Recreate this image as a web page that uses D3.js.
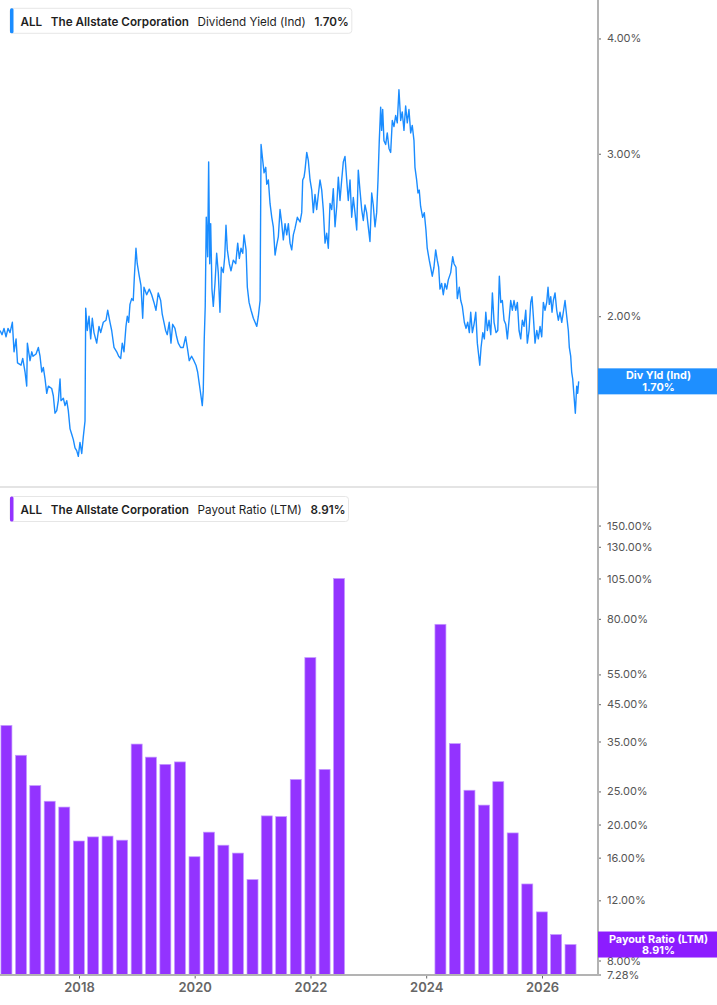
<!DOCTYPE html>
<html>
<head>
<meta charset="utf-8">
<script src="https://cdn.jsdelivr.net/npm/d3@7"></script>
<style>
  body { margin: 0; background: #fff; }
  svg { display: block; font-family: Inter, "Noto Sans", sans-serif; }
</style>
</head>
<body>
<div id="chart"></div>
<script>
// ALL - dividend yield (line, top) and payout ratio (bars, bottom)

// ---- data ----
// dividend yield (%), time as decimal year
var yieldYears = [
  2016.635, 2016.670, 2016.704, 2016.739, 2016.773, 2016.808, 2016.848, 2016.877, 2016.912, 2016.937,
  2016.998, 2017.027, 2017.067, 2017.096, 2017.107, 2017.153, 2017.183, 2017.205, 2017.257, 2017.297,
  2017.326, 2017.356, 2017.383, 2017.413, 2017.442, 2017.470, 2017.528, 2017.556, 2017.585, 2017.615,
  2017.642, 2017.672, 2017.689, 2017.729, 2017.758, 2017.788, 2017.815, 2017.845, 2017.874, 2017.902,
  2017.931, 2017.960, 2017.988, 2018.017, 2018.047, 2018.074, 2018.104, 2018.116, 2018.143, 2018.173,
  2018.202, 2018.230, 2018.259, 2018.306, 2018.346, 2018.375, 2018.420, 2018.467, 2018.496, 2018.536,
  2018.565, 2018.605, 2018.652, 2018.686, 2018.721, 2018.748, 2018.778, 2018.812, 2018.835, 2018.859,
  2018.881, 2018.911, 2018.938, 2018.956, 2018.985, 2019.007, 2019.042, 2019.071, 2019.101, 2019.123,
  2019.170, 2019.215, 2019.256, 2019.296, 2019.331, 2019.370, 2019.412, 2019.439, 2019.469, 2019.498,
  2019.526, 2019.560, 2019.590, 2019.619, 2019.659, 2019.688, 2019.716, 2019.757, 2019.802, 2019.844,
  2019.878, 2019.906, 2019.947, 2019.987, 2020.022, 2020.051, 2020.079, 2020.108, 2020.131, 2020.148,
  2020.165, 2020.182, 2020.200, 2020.224, 2020.241, 2020.259, 2020.276, 2020.298, 2020.321, 2020.350,
  2020.379, 2020.407, 2020.436, 2020.459, 2020.493, 2020.518, 2020.540, 2020.563, 2020.597, 2020.626,
  2020.666, 2020.708, 2020.742, 2020.770, 2020.799, 2020.829, 2020.851, 2020.886, 2020.908, 2020.938,
  2020.972, 2021.012, 2021.041, 2021.071, 2021.098, 2021.128, 2021.145, 2021.174, 2021.197, 2021.226,
  2021.243, 2021.271, 2021.300, 2021.330, 2021.357, 2021.387, 2021.416, 2021.444, 2021.473, 2021.503,
  2021.530, 2021.560, 2021.589, 2021.617, 2021.646, 2021.675, 2021.703, 2021.732, 2021.772, 2021.819,
  2021.848, 2021.865, 2021.888, 2021.905, 2021.935, 2021.962, 2021.992, 2022.021, 2022.049, 2022.078,
  2022.107, 2022.135, 2022.164, 2022.194, 2022.221, 2022.251, 2022.280, 2022.308, 2022.337, 2022.367,
  2022.394, 2022.424, 2022.453, 2022.481, 2022.510, 2022.539, 2022.567, 2022.596, 2022.626, 2022.653,
  2022.683, 2022.712, 2022.740, 2022.769, 2022.799, 2022.826, 2022.855, 2022.885, 2022.913, 2022.942,
  2022.971, 2022.999, 2023.028, 2023.058, 2023.085, 2023.115, 2023.144, 2023.167, 2023.189, 2023.213,
  2023.230, 2023.248, 2023.270, 2023.300, 2023.327, 2023.357, 2023.386, 2023.414, 2023.443, 2023.472,
  2023.500, 2023.529, 2023.559, 2023.586, 2023.616, 2023.645, 2023.673, 2023.702, 2023.732, 2023.759,
  2023.789, 2023.806, 2023.835, 2023.858, 2023.880, 2023.904, 2023.939, 2023.967, 2023.996, 2024.018,
  2024.053, 2024.077, 2024.105, 2024.134, 2024.164, 2024.191, 2024.215, 2024.238, 2024.267, 2024.295,
  2024.324, 2024.354, 2024.381, 2024.423, 2024.457, 2024.480, 2024.514, 2024.537, 2024.571, 2024.596,
  2024.623, 2024.658, 2024.687, 2024.716, 2024.744, 2024.768, 2024.796, 2024.825, 2024.855, 2024.882,
  2024.907, 2024.924, 2024.946, 2024.976, 2025.003, 2025.028, 2025.055, 2025.084, 2025.114, 2025.142,
  2025.171, 2025.205, 2025.235, 2025.262, 2025.287, 2025.314, 2025.344, 2025.373, 2025.401, 2025.430,
  2025.459, 2025.487, 2025.516, 2025.546, 2025.574, 2025.603, 2025.632, 2025.660, 2025.689, 2025.719,
  2025.746, 2025.776, 2025.805, 2025.827, 2025.850, 2025.879, 2025.909, 2025.936, 2025.966, 2025.995,
  2026.023, 2026.052, 2026.081, 2026.104, 2026.126, 2026.151, 2026.173, 2026.196, 2026.225, 2026.254,
  2026.282, 2026.311, 2026.341, 2026.368, 2026.398, 2026.427, 2026.455, 2026.472, 2026.496, 2026.513,
  2026.531, 2026.553, 2026.576, 2026.600, 2026.617, 2026.634
];
var yieldValues = [
  1.93, 1.91, 1.94, 1.90, 1.94, 1.92, 1.97, 1.83, 1.89, 1.78,
  1.77, 1.80, 1.74, 1.68, 1.87, 1.79, 1.83, 1.81, 1.82, 1.85,
  1.81, 1.74, 1.76, 1.71, 1.65, 1.68, 1.67, 1.64, 1.57, 1.58,
  1.62, 1.71, 1.62, 1.63, 1.60, 1.62, 1.58, 1.51, 1.49, 1.47,
  1.44, 1.43, 1.41, 1.46, 1.42, 1.48, 1.54, 2.04, 1.93, 2.00,
  1.89, 1.99, 1.92, 1.87, 1.95, 1.92, 1.97, 1.98, 2.03, 1.97,
  1.93, 1.85, 1.83, 1.81, 1.80, 1.87, 1.83, 1.95, 2.00, 1.97,
  2.06, 2.09, 2.08, 2.20, 2.37, 2.28, 2.21, 2.16, 1.99, 2.15,
  2.11, 2.14, 2.11, 2.07, 2.03, 2.12, 2.08, 2.01, 1.97, 1.93,
  1.91, 1.97, 1.87, 1.96, 1.94, 1.90, 1.87, 1.85, 1.85, 1.90,
  1.84, 1.79, 1.81, 1.79, 1.77, 1.74, 1.69, 1.64, 1.60, 1.66,
  1.89, 2.05, 2.56, 2.32, 2.94, 2.28, 2.52, 2.14, 2.05, 2.17,
  2.34, 2.23, 2.02, 2.26, 2.23, 2.32, 2.51, 2.36, 2.28, 2.24,
  2.30, 2.28, 2.40, 2.31, 2.37, 2.34, 2.45, 2.36, 2.15, 2.07,
  2.03, 1.99, 1.97, 1.95, 2.00, 2.08, 3.07, 2.95, 2.86, 2.90,
  2.78, 2.81, 2.65, 2.56, 2.50, 2.33, 2.39, 2.44, 2.61, 2.52,
  2.42, 2.52, 2.45, 2.52, 2.40, 2.36, 2.45, 2.49, 2.56, 2.53,
  2.59, 2.81, 2.83, 2.88, 3.01, 2.95, 2.81, 2.74, 2.59, 2.71,
  2.61, 2.71, 2.81, 2.74, 2.61, 2.40, 2.46, 2.37, 2.65, 2.61,
  2.75, 2.50, 2.63, 2.83, 2.67, 2.81, 2.94, 2.98, 2.81, 2.67,
  2.81, 2.56, 2.69, 2.59, 2.48, 2.88, 2.74, 2.61, 2.54, 2.64,
  2.59, 2.50, 2.41, 2.72, 2.64, 2.50, 2.59, 2.81, 3.10, 3.37,
  3.18, 3.35, 3.10, 3.07, 3.16, 3.04, 3.01, 3.26, 3.21, 3.30,
  3.24, 3.52, 3.26, 3.33, 3.18, 3.38, 3.24, 3.35, 3.16, 3.22,
  3.10, 2.90, 2.81, 2.72, 2.74, 2.63, 2.56, 2.59, 2.48, 2.37,
  2.30, 2.26, 2.21, 2.26, 2.36, 2.30, 2.26, 2.14, 2.17, 2.11,
  2.17, 2.14, 2.19, 2.23, 2.32, 2.28, 2.26, 2.09, 2.15, 2.08,
  2.05, 1.97, 1.94, 1.97, 1.92, 2.02, 1.92, 1.96, 2.02, 1.87,
  1.81, 1.77, 1.85, 1.92, 1.89, 2.02, 1.93, 1.98, 1.91, 2.12,
  1.97, 1.92, 1.93, 2.21, 2.07, 2.08, 1.98, 1.96, 1.89, 1.98,
  2.08, 2.03, 2.08, 2.03, 2.07, 1.93, 1.89, 1.98, 1.95, 2.03,
  1.87, 1.93, 2.07, 2.10, 2.00, 1.87, 1.93, 1.89, 1.95, 1.90,
  2.07, 2.03, 2.07, 2.15, 2.06, 2.10, 2.02, 2.08, 2.12, 2.03,
  1.98, 2.02, 1.97, 2.02, 2.08, 2.00, 1.93, 1.85, 1.81, 1.74,
  1.71, 1.64, 1.57, 1.68, 1.65, 1.70
];

// payout ratio LTM (%), by quarter end; null = not shown (negative earnings)
var payoutDates = [
  "2016-09-30", "2016-12-31", "2017-03-31", "2017-06-30", "2017-09-30", "2017-12-31",
  "2018-03-31", "2018-06-30", "2018-09-30", "2018-12-31", "2019-03-31", "2019-06-30",
  "2019-09-30", "2019-12-31", "2020-03-31", "2020-06-30", "2020-09-30", "2020-12-31",
  "2021-03-31", "2021-06-30", "2021-09-30", "2021-12-31", "2022-03-31", "2022-06-30",
  "2022-09-30", "2022-12-31", "2023-03-31", "2023-06-30", "2023-09-30", "2023-12-31",
  "2024-03-31", "2024-06-30", "2024-09-30", "2024-12-31", "2025-03-31", "2025-06-30",
  "2025-09-30", "2025-12-31", "2026-03-31", "2026-06-30"
];
var payoutValues = [
  39.0, 31.9, 26.0, 23.4, 22.5, 17.9,
  18.4, 18.5, 18.0, 34.4, 31.5, 30.0,
  30.5, 16.1, 19.0, 17.4, 16.5, 13.8,
  21.2, 21.1, 27.1, 61.6, 29.0, 105.0,
  null, null, null, null, null, null,
  77.1, 34.5, 25.2, 22.8, 26.7, 18.9,
  13.4, 11.1, 9.53, 8.91
];

var yieldTicks = [2, 3, 4];
var payoutTicks = [7.28, 8, 12, 16, 20, 25, 35, 45, 55, 80, 105, 130, 150];

var lastYield = 1.70;
var lastPayout = 8.91;

// ---- layout ----
var svgWidth = 717;
var svgHeight = 1005;
var plotRight = 598;
var panelSplit = 487;
var plotBottom = 974.5;

var blue = "#1a8cff";
var purple = "#9333ff";

var svg = d3.select("#chart")
    .append("svg")
    .attr("width", svgWidth)
    .attr("height", svgHeight);

function fromDecimalYear(t) {
    var y = Math.floor(t);
    var start = new Date(y, 0, 1), end = new Date(y + 1, 0, 1);
    return new Date(+start + (t - y) * (end - start));
}

var parseDate = d3.timeParse("%Y-%m-%d");

var yieldData = yieldYears.map(function(t, i) {
    return { date: fromDecimalYear(t), value: yieldValues[i] };
});
var payoutData = payoutDates.map(function(d, i) {
    return { date: parseDate(d), value: payoutValues[i] };
}).filter(function(d) { return d.value != null; });

// ---- scales ----
var x = d3.scaleTime()
    .domain([fromDecimalYear(2016.635), fromDecimalYear(2026.968)])
    .range([0, plotRight]);

var yYield = d3.scaleLog()
    .domain([1.306, 4.403])
    .range([panelSplit, 0]);

var yPayout = d3.scaleLog()
    .domain([7.28, 194.5])
    .range([plotBottom, panelSplit]);

// ---- panel separator ----
svg.append("line")
    .attr("x1", 0).attr("x2", plotRight)
    .attr("y1", panelSplit).attr("y2", panelSplit)
    .attr("stroke", "#e4e4e4")
    .attr("stroke-width", 2);

// ---- bars ----
var barWidth = 11;
svg.append("g")
    .selectAll("rect")
    .data(payoutData)
    .join("rect")
    .attr("x", d => x(d.date) - barWidth / 2)
    .attr("y", d => yPayout(d.value))
    .attr("width", barWidth)
    .attr("height", d => plotBottom - yPayout(d.value))
    .attr("fill", purple)
    .attr("stroke", "#c49bff")
    .attr("stroke-width", 0.7);

// ---- line ----
var line = d3.line()
    .x(d => x(d.date))
    .y(d => yYield(d.value));

svg.append("path")
    .datum(yieldData)
    .attr("fill", "none")
    .attr("stroke", blue)
    .attr("stroke-width", 1.4)
    .attr("stroke-linejoin", "round")
    .attr("d", line);

// ---- axes ----
var pct = d => d.toFixed(2) + "%";

function styleAxis(g) {
    g.select(".domain").remove();
    g.selectAll(".tick line").attr("stroke", "#666");
    g.selectAll(".tick text")
        .attr("fill", "#555")
        .style("font-family", "Inter, sans-serif")
        .style("font-size", "11px");
}

svg.append("g")
    .attr("transform", `translate(${plotRight}, 0)`)
    .call(d3.axisRight(yYield).tickValues(yieldTicks).tickFormat(pct).tickSize(3).tickPadding(6))
    .call(styleAxis);

svg.append("g")
    .attr("transform", `translate(${plotRight}, 0)`)
    .call(d3.axisRight(yPayout).tickValues(payoutTicks).tickFormat(pct).tickSize(3).tickPadding(6))
    .call(styleAxis);

var xAxisG = svg.append("g")
    .attr("transform", `translate(0, ${plotBottom})`)
    .call(d3.axisBottom(x).ticks(d3.timeYear.every(2)).tickFormat(d3.timeFormat("%Y")).tickSize(4).tickPadding(4))
    .call(styleAxis);
xAxisG.selectAll(".tick text")
    .attr("fill", "#666")
    .style("font-size", "13px")
    .style("font-weight", "600");

// axis lines
svg.append("line")
    .attr("x1", plotRight).attr("x2", plotRight)
    .attr("y1", 0).attr("y2", plotBottom + 1)
    .attr("stroke", "#b3b3b3")
    .attr("stroke-width", 2);
svg.append("line")
    .attr("x1", 0).attr("x2", plotRight)
    .attr("y1", plotBottom + 0.5).attr("y2", plotBottom + 0.5)
    .attr("stroke", "#b3b3b3")
    .attr("stroke-width", 2);

// ---- last value tags on the right axis ----
function valueTag(yPos, color, label, value) {
    var w = svgWidth - plotRight;
    var g = svg.append("g").attr("transform", `translate(${plotRight}, ${yPos - 13})`);
    g.append("rect")
        .attr("width", w)
        .attr("height", 26)
        .attr("fill", color);
    var t = g.append("text")
        .attr("text-anchor", "middle")
        .attr("fill", "#fff")
        .style("font-size", "10.8px")
        .style("font-weight", "700");
    t.append("tspan").attr("x", w / 2 + 1).attr("y", 11).text(label);
    t.append("tspan").attr("x", w / 2 + 1).attr("y", 22.3).text(value);
}

valueTag(yYield(lastYield), "#1e8fff", "Div Yld (Ind)", lastYield.toFixed(2) + "%");
valueTag(yPayout(lastPayout), "#8c1cff", "Payout Ratio (LTM)", lastPayout.toFixed(2) + "%");

// ---- legends ----
function legend(top, color, parts) {
    var g = svg.append("g").attr("transform", `translate(10, ${top})`);
    var box = g.append("rect")
        .attr("height", 25)
        .attr("rx", 3)
        .attr("fill", "#fff")
        .attr("stroke", "#e6e6e6");
    g.append("rect")
        .attr("width", 3.5)
        .attr("height", 25)
        .attr("rx", 1.5)
        .attr("fill", color);
    var gap = 8.6;
    var cx = 10.5;
    parts.forEach(function(p) {
        var t = g.append("text")
            .attr("x", cx)
            .attr("y", 17.5)
            .attr("fill", "#1f1f1f")
            .style("font-size", "11.7px")
            .style("font-weight", p.bold ? "600" : "400")
            .text(p.text);
        cx += t.node().getComputedTextLength() + gap;
    });
    box.attr("width", cx - gap + 3);
}

legend(8.3, blue, [
    { text: "ALL", bold: true },
    { text: "The Allstate Corporation", bold: true },
    { text: "Dividend Yield (Ind)", bold: false },
    { text: lastYield.toFixed(2) + "%", bold: true }
]);
legend(496.5, purple, [
    { text: "ALL", bold: true },
    { text: "The Allstate Corporation", bold: true },
    { text: "Payout Ratio (LTM)", bold: false },
    { text: lastPayout.toFixed(2) + "%", bold: true }
]);
</script>
</body>
</html>
